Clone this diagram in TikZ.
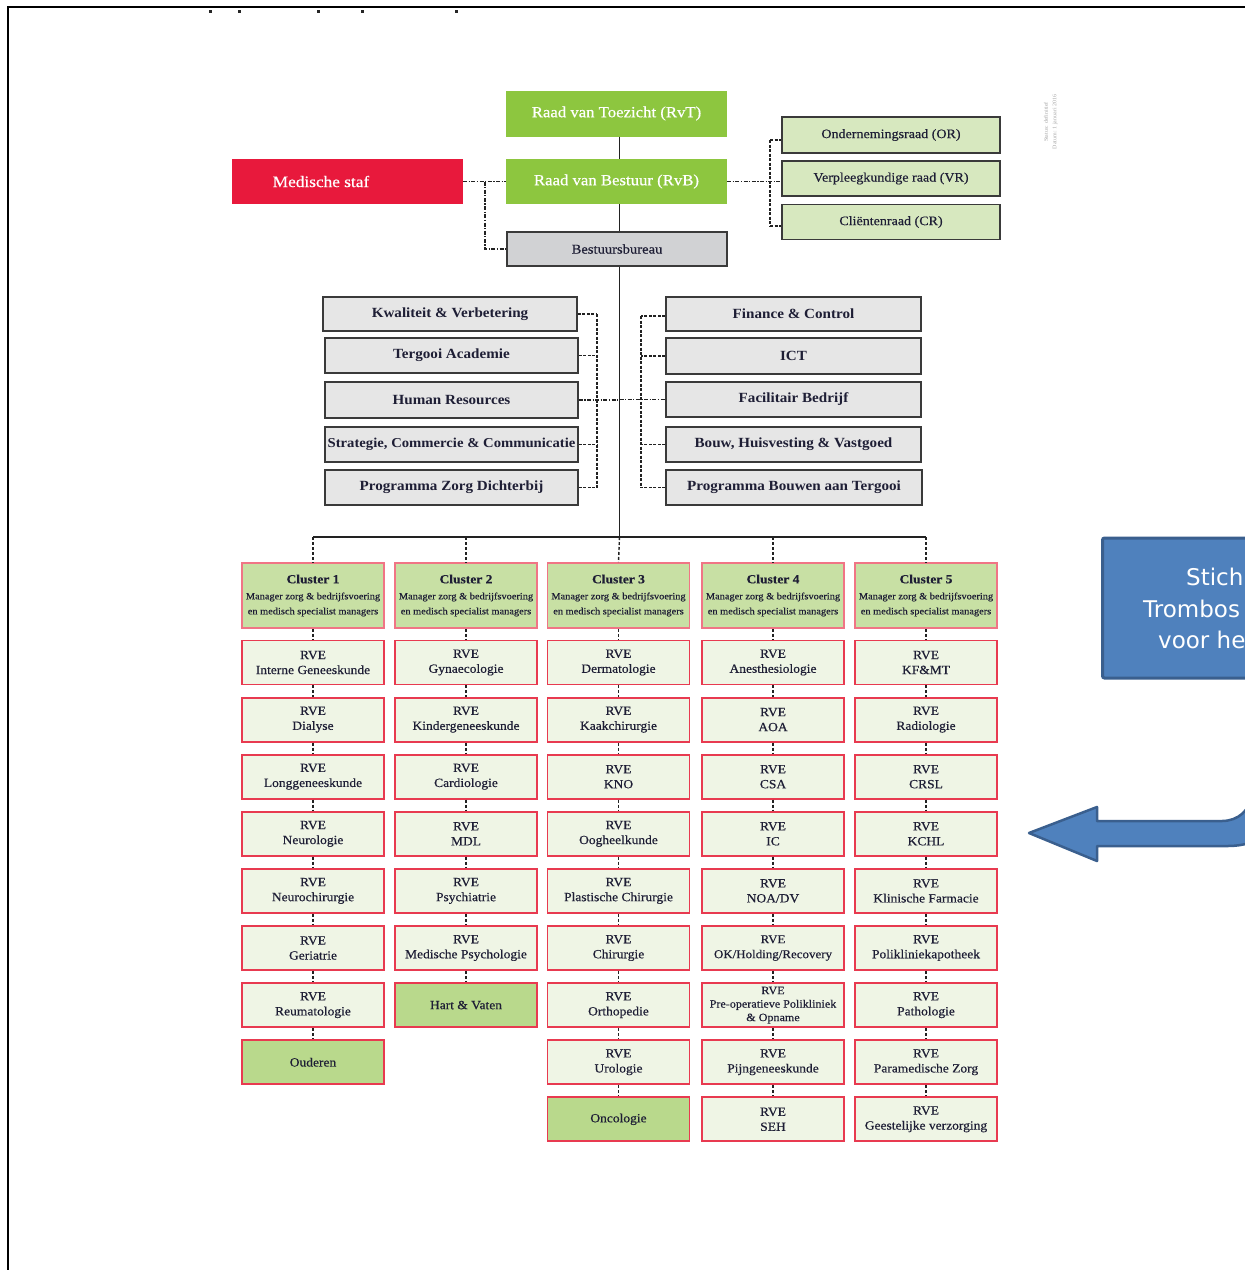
\documentclass[tikz,border=0pt]{standalone}
\usepackage{fontspec}
\setmainfont[FakeStretch=1.08]{Liberation Serif}
\newfontfamily\semib[FakeStretch=1.08,FakeBold=0.45]{Liberation Serif}
\newfontfamily\staffont[FakeStretch=1.08]{Liberation Serif}
\newfontfamily\blueboxfont{DejaVu Sans}
\usetikzlibrary{calc}
\definecolor{cGreen}{HTML}{8DC63F}
\definecolor{cMed}{HTML}{E8193C}
\definecolor{cBB}{HTML}{D1D2D4}
\definecolor{cStaff}{HTML}{E6E6E6}
\definecolor{cDark}{HTML}{3A3A3A}
\definecolor{cCouncil}{HTML}{D7E8BF}
\definecolor{cHead}{HTML}{C8E0A4}
\definecolor{cPink}{HTML}{F07585}
\definecolor{cRve}{HTML}{EFF5E5}
\definecolor{cRveB}{HTML}{E83A50}
\definecolor{cGrp}{HTML}{B9D98C}
\definecolor{cText}{HTML}{1E1E35}
\definecolor{cBlue}{HTML}{4F81BD}
\definecolor{cBlueD}{HTML}{3A5F8E}
\definecolor{cLine}{HTML}{222222}
\begin{document}
\begin{tikzpicture}[x=1pt,y=-1pt,
  topgreen/.style={fill=cGreen, draw=none, text=white, font=\semib\fontsize{15.5}{18}\selectfont, minimum width=221, minimum height=46, inner sep=0},
  medbox/.style={fill=cMed, draw=none, minimum width=231, minimum height=45, inner sep=0},
  bbbox/.style={fill=cBB, draw=cDark, line width=1.5, text=cText, font=\semib\fontsize{13.5}{16}\selectfont, minimum width=220, minimum height=34, inner sep=0},
  staffbox/.style={fill=cStaff, draw=cDark, line width=1.6, text=cText, font=\staffont\bfseries\fontsize{14}{16}\selectfont, minimum width=253, minimum height=35, inner sep=0},
  councilbox/.style={fill=cCouncil, draw=cDark, line width=1.8, text=cText, font=\semib\fontsize{13}{16}\selectfont, minimum width=218, minimum height=35, inner sep=0},
  headbox/.style={fill=cHead, draw=cPink, line width=1.6, text=cText, minimum width=142, minimum height=65, inner sep=0, align=center, font=\semib\fontsize{9.6}{15}\selectfont},
  rvebox/.style={fill=cRve, draw=cRveB, line width=1.8, text=cText, minimum width=142, minimum height=44, inner sep=0, align=center, font=\semib\fontsize{12.5}{15}\selectfont},
  grpbox/.style={rvebox, fill=cGrp},
  solidline/.style={draw=cLine, line width=1.7},
  dashdotline/.style={draw=cLine, line width=1.2, dash pattern=on 4pt off 1.5pt on 1.2pt off 1.5pt},
  dashline/.style={draw=cLine, line width=1.2, dash pattern=on 3pt off 1.5pt},
  vdash/.style={draw=cLine, line width=1.4, dash pattern=on 3pt off 2pt}
]
\useasboundingbox (0,0) rectangle (1245,1270);
\fill[white] (0,0) rectangle (1245,1270);
\begin{scope}
\clip (0,0) rectangle (1245,1270);

% frame and top marks
\draw[black, line width=2] (8,1272) -- (8,7) -- (1247,7);
\foreach \mx in {210,239,318,362,456} \fill[black!85] (\mx-1.5,10) rectangle (\mx+1.5,12.5);

% governance
\node[topgreen] (rvt) at (616.5,113.5) {Raad van Toezicht (RvT)};
\node[topgreen, minimum height=45] (rvb) at (616.5,181.5) {Raad van Bestuur (RvB)};
\node[medbox] (med) at (347.5,181.5) {};
\node[text=white, font=\semib\fontsize{16}{18}\selectfont, inner sep=0] (medtxt) at (321,181.5) {Medische staf};
\node[bbbox] (bb) at (617,249) {Bestuursbureau};

\node[councilbox, minimum height=36] (or) at (891,135) {Ondernemingsraad (OR)};
\node[councilbox] (vr) at (891,178.5) {Verpleegkundige raad (VR)};
\node[councilbox] (cr) at (891,222) {Cliëntenraad (CR)};

% faint status text
\node[rotate=90, text=black!35, font=\fontsize{5.5}{6}\selectfont, inner sep=0] (stat1) at (1046,122) {Status: definitief};
\node[rotate=90, text=black!35, font=\fontsize{5.5}{6}\selectfont, inner sep=0] (stat2) at (1055,122) {Datum: 1 januari 2016};

% staff left
\node[staffbox, minimum width=254, minimum height=34] (kv) at (450,314) {Kwaliteit \& Verbetering};
\node[staffbox] (ta) at (451.5,355.5) {Tergooi Academie};
\node[staffbox, minimum height=36] (hr) at (451.5,400) {Human Resources};
\node[staffbox, font=\staffont\bfseries\fontsize{13.6}{16}\selectfont] (scc) at (451.5,444.5) {Strategie, Commercie \& Communicatie};
\node[staffbox] (pzd) at (451.5,487.5) {Programma Zorg Dichterbij};
% staff right
\node[staffbox, minimum width=255, minimum height=34] (fc) at (793.5,314) {Finance \& Control};
\node[staffbox, minimum width=255, minimum height=36] (ict) at (793.5,356) {ICT};
\node[staffbox, minimum width=255] (fb) at (793.5,399.5) {Facilitair Bedrijf};
\node[staffbox, minimum width=255] (bhv) at (793.5,444.5) {Bouw, Huisvesting \& Vastgoed};
\node[staffbox, minimum width=256] (pbt) at (794,487.5) {Programma Bouwen aan Tergooi};

% trunk
\coordinate (busL) at (313,537);
\coordinate (busM) at (619.5,537);
\coordinate (busR) at (926,537);
\draw[solidline] (busM |- rvt.south) -- (busM |- rvb.north);
\draw[solidline] (busM |- rvb.south) -- (busM |- bb.north);
\draw[solidline] (busM |- bb.south) -- (busM);
\draw[solidline] (busL) -- (busR);

% medische staf links
\coordinate (mc) at (485,181.5);
\draw[dashdotline] (med.east) -- (rvb.west);
\draw[dashdotline] (mc) |- (bb.west);

% council links
\coordinate (ct) at (770,140);
\coordinate (cbm) at (770,181.5);
\coordinate (cb) at (770,226);
\draw[dashdotline] (rvb.east) -- (cbm) -- (cbm -| vr.west);
\draw[dashline] (ct) -- (cb);
\draw[dashline] (ct) -- (ct -| or.west);
\draw[dashline] (cb) -- (cb -| cr.west);

% staff buses
\coordinate (lbt) at (597,314);
\coordinate (lbb) at (597,487.5);
\coordinate (rbt) at (641,316);
\coordinate (rbb) at (641,487.5);
\draw[dashline] (lbt) -- (lbb);
\draw[dashline] (rbt) -- (rbb);
\foreach \n in {kv,ta,scc,pzd} \draw[dashline] (\n.east) -- (\n.east -| lbt);
\foreach \n in {ict,bhv,pbt} \draw[dashline] (\n.west) -- (\n.west -| rbt);
\draw[dashline] (fc.west |- rbt) -- (rbt);
\coordinate (hrt) at (619.5,400);
\coordinate (fbt) at (619.5,399.5);
\draw[dashdotline] (hr.east) -- (hrt);
\draw[dashdotline] (fbt) -- (fb.west);

% clusters
\newcommand{\hdr}[1]{{\semib\bfseries\fontsize{12.5}{15}\selectfont Cluster #1}\\[1pt]Manager zorg \& bedrijfsvoering\\en medisch specialist managers}
\node[headbox] (c1h) at (313,595.5) {\hdr{1}};
\node[headbox] (c2h) at (466,595.5) {\hdr{2}};
\node[headbox] (c3h) at (618.5,595.5) {\hdr{3}};
\node[headbox] (c4h) at (773,595.5) {\hdr{4}};
\node[headbox] (c5h) at (926,595.5) {\hdr{5}};
\foreach \c/\x in {c1h/313,c2h/466,c3h/619.5,c4h/773,c5h/926} \draw[vdash] (\x,537) -- (\c.north);

% column 1
\node[rvebox] (c1r1) at (313,662.5) {RVE\\Interne Geneeskunde};
\node[rvebox] (c1r2) at (313,719.6) {RVE\\Dialyse};
\node[rvebox] (c1r3) at (313,776.7) {RVE\\Longgeneeskunde};
\node[rvebox] (c1r4) at (313,833.8) {RVE\\Neurologie};
\node[rvebox] (c1r5) at (313,890.9) {RVE\\Neurochirurgie};
\node[rvebox] (c1r6) at (313,948) {RVE\\Geriatrie};
\node[rvebox] (c1r7) at (313,1005.1) {RVE\\Reumatologie};
\node[grpbox] (c1r8) at (313,1062.2) {Ouderen};
% column 2
\node[rvebox] (c2r1) at (466,662.5) {RVE\\Gynaecologie};
\node[rvebox] (c2r2) at (466,719.6) {RVE\\Kindergeneeskunde};
\node[rvebox] (c2r3) at (466,776.7) {RVE\\Cardiologie};
\node[rvebox] (c2r4) at (466,833.8) {RVE\\MDL};
\node[rvebox] (c2r5) at (466,890.9) {RVE\\Psychiatrie};
\node[rvebox] (c2r6) at (466,948) {RVE\\Medische Psychologie};
\node[grpbox] (c2r7) at (466,1005.1) {Hart \& Vaten};
% column 3
\node[rvebox] (c3r1) at (618.5,662.5) {RVE\\Dermatologie};
\node[rvebox] (c3r2) at (618.5,719.6) {RVE\\Kaakchirurgie};
\node[rvebox] (c3r3) at (618.5,776.7) {RVE\\KNO};
\node[rvebox] (c3r4) at (618.5,833.8) {RVE\\Oogheelkunde};
\node[rvebox] (c3r5) at (618.5,890.9) {RVE\\Plastische Chirurgie};
\node[rvebox] (c3r6) at (618.5,948) {RVE\\Chirurgie};
\node[rvebox] (c3r7) at (618.5,1005.1) {RVE\\Orthopedie};
\node[rvebox] (c3r8) at (618.5,1062.2) {RVE\\Urologie};
\node[grpbox] (c3r9) at (618.5,1119.3) {Oncologie};
% column 4
\node[rvebox] (c4r1) at (773,662.5) {RVE\\Anesthesiologie};
\node[rvebox] (c4r2) at (773,719.6) {RVE\\AOA};
\node[rvebox] (c4r3) at (773,776.7) {RVE\\CSA};
\node[rvebox] (c4r4) at (773,833.8) {RVE\\IC};
\node[rvebox] (c4r5) at (773,890.9) {RVE\\NOA/DV};
\node[rvebox, font=\semib\fontsize{12}{15}\selectfont] (c4r6) at (773,948) {RVE\\OK/Holding/Recovery};
\node[rvebox, font=\semib\fontsize{11.2}{13.5}\selectfont] (c4r7) at (773,1005.1) {RVE\\Pre-operatieve Polikliniek\\\& Opname};
\node[rvebox] (c4r8) at (773,1062.2) {RVE\\Pijngeneeskunde};
\node[rvebox] (c4r9) at (773,1119.3) {RVE\\SEH};
% column 5
\node[rvebox] (c5r1) at (926,662.5) {RVE\\KF\&MT};
\node[rvebox] (c5r2) at (926,719.6) {RVE\\Radiologie};
\node[rvebox] (c5r3) at (926,776.7) {RVE\\CRSL};
\node[rvebox] (c5r4) at (926,833.8) {RVE\\KCHL};
\node[rvebox] (c5r5) at (926,890.9) {RVE\\Klinische Farmacie};
\node[rvebox] (c5r6) at (926,948) {RVE\\Polikliniekapotheek};
\node[rvebox] (c5r7) at (926,1005.1) {RVE\\Pathologie};
\node[rvebox] (c5r8) at (926,1062.2) {RVE\\Paramedische Zorg};
\node[rvebox] (c5r9) at (926,1119.3) {RVE\\Geestelijke verzorging};

\foreach \a/\b in {c1h/c1r1,c1r1/c1r2,c1r2/c1r3,c1r3/c1r4,c1r4/c1r5,c1r5/c1r6,c1r6/c1r7,c1r7/c1r8,
  c2h/c2r1,c2r1/c2r2,c2r2/c2r3,c2r3/c2r4,c2r4/c2r5,c2r5/c2r6,c2r6/c2r7,
  c3h/c3r1,c3r1/c3r2,c3r2/c3r3,c3r3/c3r4,c3r4/c3r5,c3r5/c3r6,c3r6/c3r7,c3r7/c3r8,c3r8/c3r9,
  c4h/c4r1,c4r1/c4r2,c4r2/c4r3,c4r3/c4r4,c4r4/c4r5,c4r5/c4r6,c4r6/c4r7,c4r7/c4r8,c4r8/c4r9,
  c5h/c5r1,c5r1/c5r2,c5r2/c5r3,c5r3/c5r4,c5r4/c5r5,c5r5/c5r6,c5r6/c5r7,c5r7/c5r8,c5r8/c5r9}
  \draw[vdash] (\a.south) -- (\b.north);

% blue box (cut off at right)
\node[fill=cBlue, draw=cBlueD, line width=3, rounded corners=2, minimum width=220, minimum height=140, anchor=north west, inner sep=0] (stbox) at (1101,536.5) {};
\node[anchor=base west, inner sep=0, text=white, font=\blueboxfont\fontsize{23}{28}\selectfont] (st1) at (1186,585) {Stich};
\node[anchor=base west, inner sep=0, text=white, font=\blueboxfont\fontsize{23}{28}\selectfont] (st2) at (1143,617) {Trombos};
\node[anchor=base west, inner sep=0, text=white, font=\blueboxfont\fontsize{23}{28}\selectfont] (st3) at (1158,648) {voor he};

% bent blue arrow
\filldraw[fill=cBlue, draw=cBlueD, line width=2.5, line join=round]
  (1029,833) -- (1097,807) -- (1097,821) -- (1222,821)
  .. controls (1238,821) and (1251,810) .. (1251,794) -- (1251,700)
  -- (1280,700) -- (1280,805)
  .. controls (1280,830) and (1258,846) .. (1228,846)
  -- (1097,846) -- (1097,861) -- cycle;
\end{scope}
\end{tikzpicture}
\end{document}
